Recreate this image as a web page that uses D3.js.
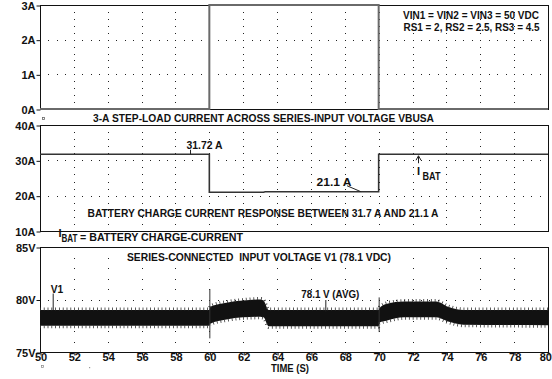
<!DOCTYPE html>
<html>
<head>
<meta charset="utf-8">
<script src="https://cdn.jsdelivr.net/npm/d3@7/dist/d3.min.js"></script>
<style>
  html, body { margin: 0; padding: 0; background: #fff; }
  svg { display: block; font-family: "Liberation Sans", Arial, Helvetica, sans-serif; }
  text { font-weight: bold; fill: #111; }
</style>
</head>
<body>
<svg id="chart" width="552" height="379"></svg>
<script>
// Time axis (seconds)
const timeTicks = [50, 52, 54, 56, 58, 60, 62, 64, 66, 68, 70, 72, 74, 76, 78, 80];

// Panel 1: step-load current (A)
const loadTime = [50, 60, 60, 70, 70, 80];
const loadAmps = [0, 0, 3, 3, 0, 0];
const loadTicks = [0, 1, 2, 3];

// Panel 2: battery charge current IBAT (A)
const ibatTime = [50, 60, 60, 63.2, 63.3, 70, 70, 80];
const ibatAmps = [31.72, 31.72, 20.95, 20.95, 21.1, 21.1, 31.72, 31.72];
const ibatTicks = [10, 20, 30, 40];

// Panel 3: series input voltage V1 (V) - ripple envelope
const v1Time = [50, 60, 60.05, 61, 62, 63, 63.2, 63.5, 70, 70.05, 70.5, 71.5, 73.4, 74.1, 75, 80];
const v1High = [79.0, 79.0, 79.3, 79.7, 79.9, 80.0, 79.9, 79.0, 79.0, 79.2, 79.6, 79.8, 79.8, 79.3, 79.0, 79.0];
const v1Low  = [77.5, 77.5, 77.7, 78.1, 78.3, 78.35, 78.3, 77.45, 77.45, 77.8, 78.0, 78.3, 78.3, 77.9, 77.6, 77.55];
const spikeTime = [60, 70];
const spikeHigh = [81.0, 80.2];
const spikeLow  = [76.3, 76.9];
const voltTicks = [75, 80, 85];

// Annotation values
const ibatHighLabel = "31.72 A", ibatHighAt = [58.86, 31.72];
const ibatLowLabel = "21.1 A", ibatLowAt = [68.96, 21.1];
const ibatMarkAt = [72.34, 31.72];
const v1Label = "V1", v1At = [50.75, 79.0];
const avgLabel = "78.1 V (AVG)", avgAt = [66.85, 79.0];

const svg = d3.select("#chart");
const x = d3.scaleLinear().domain([50, 80]).range([40, 548]);

const panels = [
  { y: d3.scaleLinear().domain([0, 3]).range([109, 5]),   ticks: loadTicks, unit: "A", hGrid: [1, 2],  minor: 0.2 },
  { y: d3.scaleLinear().domain([10, 40]).range([231, 125]), ticks: ibatTicks, unit: "A", hGrid: [20, 30], minor: 2 },
  { y: d3.scaleLinear().domain([75, 85]).range([352, 247]), ticks: voltTicks, unit: "V", hGrid: [80], minor: 1 }
];

panels.forEach(p => {
  const g = svg.append("g");
  const [y0, y1] = p.y.domain();
  // dotted grid: horizontal rows at major values, dots every 0.5 s
  const dotsH = [];
  p.hGrid.forEach(v => d3.range(50.5, 80, 0.5).forEach(t => dotsH.push([t, v])));
  // vertical columns at each inner time tick, dots at minor values
  const dotsV = [];
  timeTicks.slice(1, -1).forEach(t => d3.range(y0 + p.minor, y1 - p.minor / 2, p.minor).forEach(v => dotsV.push([t, v])));
  g.selectAll("rect.dot").data(dotsH.concat(dotsV)).join("rect")
    .attr("class", "dot")
    .attr("x", d => Math.round(x(d[0])))
    .attr("y", d => Math.round(p.y(d[1])))
    .attr("width", 1).attr("height", 1).attr("fill", "#222")
    .attr("shape-rendering", "crispEdges");

  // frame
  const top = Math.round(p.y(y1)), bot = Math.round(p.y(y0));
  g.append("rect").attr("x", 40.5).attr("y", top + 0.5)
    .attr("width", 508).attr("height", bot - top)
    .attr("fill", "none").attr("stroke", "#111").attr("stroke-width", 1);

  // y axis
  const ax = g.append("g").attr("transform", "translate(40.5,0.5)")
    .call(d3.axisLeft(p.y).tickValues(p.ticks).tickFormat(d => d + p.unit).tickSize(4).tickPadding(1));
  ax.select(".domain").remove();
  ax.selectAll("line").attr("stroke", "#111");
  ax.selectAll("text").attr("font-size", 11).attr("font-weight", "bold").attr("fill", "#111")
    .attr("font-family", "'Liberation Sans', Arial, sans-serif");
  p.g = g;
});

// x axis on the bottom panel
const xa = svg.append("g").attr("transform", "translate(0.5,352.5)")
  .call(d3.axisBottom(x).tickValues(timeTicks).tickFormat(d3.format("d")).tickSize(3).tickPadding(1));
xa.select(".domain").remove();
xa.selectAll("line").attr("stroke", "#111");
xa.selectAll("text").attr("font-size", 11).attr("font-weight", "bold").attr("fill", "#111")
  .attr("y", 8.5).attr("dy", null)
  .attr("font-family", "'Liberation Sans', Arial, sans-serif");
// keep the last label inside the page edge
xa.selectAll(".tick").filter(d => d === 80).select("text")
  .attr("text-anchor", "end").attr("x", 3);

// Panel 1 trace
const p1 = panels[0], p2 = panels[1], p3 = panels[2];
svg.append("path")
  .datum(loadTime.map((t, i) => [t, loadAmps[i]]))
  .attr("d", d3.line().x(d => x(d[0])).y(d => p1.y(d[1])))
  .attr("fill", "none").attr("stroke", "#6a6a6a").attr("stroke-width", 2);

// Panel 2 trace
svg.append("path")
  .datum(ibatTime.map((t, i) => [t, ibatAmps[i]]))
  .attr("d", d3.line().x(d => x(d[0])).y(d => p2.y(d[1])))
  .attr("fill", "none").attr("stroke", "#333").attr("stroke-width", 1.6);

// Panel 3 ripple band
const v1 = v1Time.map((t, i) => ({ t, hi: v1High[i], lo: v1Low[i] }));
svg.append("path").datum(v1)
  .attr("d", d3.area().curve(d3.curveMonotoneX).x(d => x(d.t)).y0(d => p3.y(d.lo)).y1(d => p3.y(d.hi)))
  .attr("fill", "#111");
// ripple peaks along both edges
[["hi", -1], ["lo", 1]].forEach(([k, off]) => {
  svg.append("path").datum(v1)
    .attr("d", d3.line().curve(d3.curveMonotoneX).x(d => x(d.t)).y(d => p3.y(d[k]) + off))
    .attr("fill", "none").attr("stroke", "#333").attr("stroke-width", 3)
    .attr("stroke-dasharray", "0.8 3");
});
// switching transients
svg.selectAll("line.spike").data(spikeTime).join("line")
  .attr("x1", d => x(d) + 0.5).attr("x2", d => x(d) + 0.5)
  .attr("y1", (d, i) => p3.y(spikeHigh[i])).attr("y2", (d, i) => p3.y(spikeLow[i]))
  .attr("stroke", "#333").attr("stroke-width", 1);

// Text helpers
function label(txt, xp, yp, size, opts = {}) {
  const t = svg.append("text").attr("x", xp).attr("y", yp).attr("font-size", size).text(txt);
  if (opts.len) t.attr("textLength", opts.len).attr("lengthAdjust", "spacingAndGlyphs");
  if (opts.anchor) t.attr("text-anchor", opts.anchor);
  return t;
}
function leader(x1, y1, x2, y2) {
  svg.append("line").attr("x1", x1).attr("y1", y1).attr("x2", x2).attr("y2", y2)
    .attr("stroke", "#222").attr("stroke-width", 1);
}

// Panel 1 notes
label("VIN1 = VIN2 = VIN3 = 50 VDC", 403, 19, 10.5, { len: 136 });
label("RS1 = 2, RS2 = 2.5, RS3 = 4.5", 403.5, 31, 10.5, { len: 136 });
label("3-A STEP-LOAD CURRENT ACROSS SERIES-INPUT VOLTAGE VBUSA", 93, 122, 10, { len: 341 });
svg.append("rect").attr("x", 42.5).attr("y", 117.5).attr("width", 2).attr("height", 2)
  .attr("fill", "none").attr("stroke", "#666").attr("stroke-width", 0.8);

// Panel 2 notes
{
  const hx = x(ibatHighAt[0]), hy = p2.y(ibatHighAt[1]);
  leader(hx + 0.5, hy - 4.5, hx + 0.5, hy);
  label(ibatHighLabel, hx - 3.5, hy - 5, 10.5, { len: 36 });
  const lx = x(ibatLowAt[0]), ly = p2.y(ibatLowAt[1]);
  leader(lx - 14, ly - 6, lx, ly);
  label(ibatLowLabel, lx - 44.5, ly - 5.5, 10.5, { len: 35 });
  const mx = Math.round(x(ibatMarkAt[0])) + 0.5, my = p2.y(ibatMarkAt[1]);
  leader(mx, my + 2, mx, my + 9);
  svg.append("path").attr("d", `M${mx - 2.5},${my + 6} L${mx},${my + 1.5} L${mx + 2.5},${my + 6}`)
    .attr("fill", "none").attr("stroke", "#222").attr("stroke-width", 1);
  label("I", mx - 1.5, my + 21, 11);
  label("BAT", mx + 4, my + 26, 10.5, { len: 18 });
}
label("BATTERY CHARGE CURRENT RESPONSE BETWEEN 31.7 A AND 21.1 A", 87.5, 216.5, 10, { len: 351 });
label("I", 58.5, 237, 11);
label("BAT", 61.5, 242, 10.5, { len: 16 });
label("= BATTERY CHARGE-CURRENT", 80, 240.5, 10, { len: 163 });

// Panel 3 notes
label("SERIES-CONNECTED  INPUT VOLTAGE V1 (78.1 VDC)", 127, 261, 10, { len: 264 }).attr("xml:space", "preserve");
{
  const vx = x(v1At[0]) + 0.5, vy = p3.y(v1At[1]);
  leader(vx, vy - 16.5, vx, vy);
  label(v1Label, vx - 2.5, vy - 17.5, 11, { len: 12.5 });
  const ax2 = x(avgAt[0]) + 0.5, ay = p3.y(avgAt[1]);
  leader(ax2, ay - 10, ax2, ay + 1.5);
  label(avgLabel, ax2 - 24.5, ay - 12.5, 10.5, { len: 58 });
}
label("TIME (S)", 271, 372, 10, { len: 38 });
svg.append("rect").attr("x", 41.5).attr("y", 365.5).attr("width", 2).attr("height", 2)
  .attr("fill", "none").attr("stroke", "#888").attr("stroke-width", 0.7);
svg.append("rect").attr("x", 89).attr("y", 367).attr("width", 1.2).attr("height", 1.2).attr("fill", "#999");
</script>
</body>
</html>
